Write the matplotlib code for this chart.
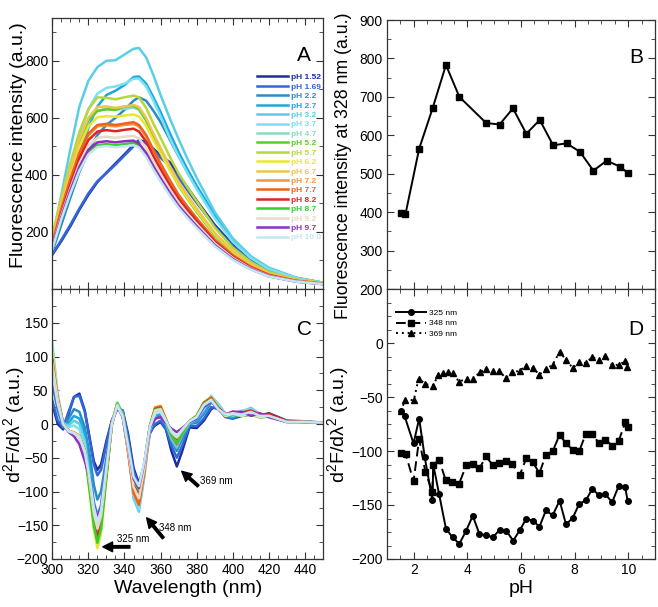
import matplotlib
matplotlib.use("Agg")
import matplotlib.pyplot as plt
from matplotlib.ticker import MultipleLocator, FixedLocator

plt.rcParams['font.family'] = ['Liberation Sans', 'DejaVu Sans']
plt.rcParams['mathtext.fontset'] = 'custom'
plt.rcParams['mathtext.rm'] = 'Liberation Sans'
plt.rcParams['mathtext.it'] = 'Liberation Sans:italic'
plt.rcParams['mathtext.default'] = 'regular'

# ---------------- data ----------------
ph_labels = ["pH 1.52", "pH 1.69", "pH 2.2", "pH 2.7", "pH 3.2", "pH 3.7", "pH 4.7", "pH 5.2",
             "pH 5.7", "pH 6.2", "pH 6.7", "pH 7.2", "pH 7.7", "pH 8.2", "pH 8.7", "pH 9.2",
             "pH 9.7", "pH 10.0"]

# Panel A: emission spectra (wavelength grid, nm)
wl_a = [300, 305, 310, 315, 320, 325, 330, 335, 340, 345, 348, 352, 356, 360, 365, 370, 375, 380,
        390, 400, 410, 420, 435, 450]
spec_152 = [120, 168, 220, 278, 330, 375, 408, 440, 472, 505, 522, 515, 492, 468, 445, 400, 355, 310, 225, 155, 100, 65, 36, 20]
spec_169 = [122, 172, 225, 282, 335, 378, 406, 436, 468, 500, 518, 510, 486, 460, 432, 390, 345, 302, 220, 150, 97, 63, 35, 20]
spec_22 = [130, 225, 320, 410, 480, 540, 575, 600, 628, 660, 672, 660, 625, 585, 525, 465, 408, 355, 255, 170, 110, 72, 39, 22]
spec_27 = [140, 250, 360, 470, 565, 640, 680, 695, 715, 743, 745, 720, 672, 620, 548, 480, 418, 362, 258, 172, 112, 72, 39, 22]
spec_32 = [175, 330, 490, 640, 730, 778, 800, 802, 822, 842, 845, 812, 750, 680, 600, 525, 455, 390, 270, 178, 115, 75, 40, 22]
spec_37 = [165, 290, 420, 540, 630, 685, 705, 710, 720, 737, 738, 710, 660, 605, 530, 465, 405, 350, 248, 165, 108, 70, 38, 22]
spec_47 = [170, 300, 412, 515, 590, 625, 632, 628, 632, 636, 628, 590, 535, 485, 423, 367, 320, 275, 192, 130, 85, 54, 31, 20]
spec_52 = [172, 302, 415, 518, 592, 624, 630, 628, 640, 642, 632, 592, 536, 484, 420, 362, 315, 270, 188, 127, 83, 53, 31, 20]
spec_57 = [185, 320, 440, 550, 630, 672, 670, 665, 672, 678, 672, 635, 580, 530, 465, 405, 355, 308, 215, 145, 95, 60, 34, 22]
spec_62 = [170, 295, 405, 500, 570, 602, 606, 604, 608, 612, 605, 572, 522, 476, 418, 364, 318, 274, 192, 130, 85, 54, 31, 20]
spec_67 = [175, 305, 420, 525, 600, 638, 640, 635, 640, 645, 638, 600, 545, 495, 432, 375, 328, 282, 197, 133, 87, 55, 32, 21]
spec_72 = [158, 276, 380, 472, 538, 570, 574, 570, 575, 578, 570, 535, 484, 437, 380, 328, 286, 246, 172, 117, 77, 49, 29, 19]
spec_77 = [160, 280, 385, 478, 545, 575, 579, 575, 580, 585, 575, 540, 488, 440, 383, 330, 288, 248, 173, 118, 78, 50, 29, 19]
spec_82 = [150, 265, 365, 458, 522, 552, 557, 553, 558, 562, 552, 517, 466, 420, 365, 316, 276, 238, 166, 113, 75, 48, 28, 18]
spec_87 = [142, 248, 340, 420, 478, 504, 508, 504, 508, 512, 503, 470, 424, 382, 333, 288, 251, 217, 152, 104, 69, 44, 26, 17]
spec_92 = [148, 258, 352, 440, 502, 530, 534, 530, 534, 537, 528, 494, 446, 402, 350, 303, 264, 228, 160, 109, 72, 46, 27, 18]
spec_97 = [145, 252, 345, 428, 488, 514, 518, 514, 518, 520, 510, 477, 430, 388, 338, 292, 255, 220, 154, 105, 70, 45, 26, 17]
spec_100 = [140, 245, 335, 415, 472, 497, 501, 497, 500, 504, 496, 463, 418, 377, 328, 284, 248, 214, 150, 102, 68, 44, 26, 17]

# Panel C: second derivative spectra
wl_c = [300, 303, 306, 309, 312, 315, 318, 321, 323, 325, 327, 330, 333, 336, 339, 342, 345, 348, 351, 354,
        357, 360, 363, 366, 369, 372, 376, 380, 384, 388, 392, 396, 400, 405, 410, 415, 420, 430, 440, 450]
der_152 = [30, 0, -8, 15, 40, 45, 20, -25, -55, -68, -60, -25, 5, 22, 20, -15, -65, -88, -60, -10, -2, 3, -8, -40, -63, -40, -5, -6, 5, 22, 28, 12, 8, 12, 18, 12, 16, 5, 4, 2]
der_169 = [35, 5, -5, 18, 40, 42, 18, -28, -60, -76, -68, -30, 5, 25, 20, -20, -70, -92, -65, -15, 0, 5, -8, -32, -50, -32, -3, -3, 8, 25, 22, 10, 8, 14, 16, 12, 14, 4, 3, 2]
der_22 = [60, 20, -5, 8, 22, 18, -5, -50, -90, -112, -100, -50, 0, 28, 18, -25, -80, -100, -62, -10, 8, 12, -2, -25, -40, -22, 0, 2, 15, 32, 25, 12, 10, 14, 18, 12, 14, 4, 3, 2]
der_27 = [75, 30, -2, 2, 12, 8, -15, -70, -115, -135, -120, -60, 0, 30, 15, -30, -95, -115, -70, -10, 12, 15, 0, -22, -35, -18, 0, 5, 18, 35, 28, 12, 10, 16, 20, 12, 12, 4, 3, 2]
der_32 = [110, 40, 0, -2, 5, 0, -25, -85, -130, -150, -132, -65, 0, 32, 15, -35, -110, -130, -78, -10, 15, 20, 2, -22, -35, -15, 2, 8, 22, 40, 30, 15, 12, 18, 24, 15, 12, 4, 3, 2]
der_37 = [120, 45, 2, -5, -2, -8, -30, -95, -140, -160, -140, -70, 0, 30, 14, -35, -105, -126, -75, -8, 16, 22, 4, -18, -30, -14, 2, 8, 22, 42, 30, 14, 14, 20, 22, 14, 12, 4, 3, 2]
der_47 = [95, 38, 0, -10, -13, -18, -40, -97, -140, -165, -145, -73, 0, 28, 12, -39, -95, -112, -67, -5, 20, 22, 5, -15, -25, -12, 4, 10, 28, 36, 22, 12, 15, 12, 15, 10, 12, 3, 3, 2]
der_52 = [85, 34, 0, -10, -14, -18, -40, -89, -128, -150, -132, -66, 0, 30, 14, -35, -85, -100, -60, -3, 22, 24, 6, -15, -26, -12, 4, 12, 30, 38, 24, 12, 14, 12, 14, 10, 11, 3, 3, 2]
der_57 = [100, 40, 0, -10, -13, -18, -42, -106, -153, -180, -158, -79, 0, 30, 12, -38, -92, -108, -65, -4, 24, 26, 7, -13, -22, -10, 5, 11, 30, 38, 23, 12, 16, 13, 15, 10, 12, 3, 3, 2]
der_62 = [105, 42, 0, -10, -12, -17, -42, -109, -156, -184, -162, -81, 0, 30, 12, -39, -95, -112, -67, -4, 25, 27, 7, -14, -24, -11, 5, 11, 31, 40, 24, 13, 16, 13, 16, 11, 12, 3, 3, 2]
der_67 = [90, 36, 0, -10, -13, -18, -40, -100, -145, -170, -150, -75, 0, 29, 12, -41, -100, -118, -71, -5, 24, 26, 6, -16, -28, -13, 4, 11, 30, 40, 23, 12, 17, 12, 15, 10, 12, 3, 3, 2]
der_72 = [88, 35, 0, -10, -13, -18, -40, -97, -140, -165, -145, -73, 0, 29, 12, -40, -98, -115, -69, -5, 23, 25, 6, -16, -27, -12, 4, 12, 32, 40, 24, 14, 18, 14, 16, 12, 12, 4, 3, 2]
der_77 = [85, 34, 0, -10, -13, -18, -40, -94, -136, -160, -141, -70, 0, 28, 12, -42, -102, -120, -72, -5, 24, 26, 6, -17, -30, -14, 4, 12, 32, 38, 22, 14, 18, 14, 17, 12, 13, 4, 3, 2]
der_82 = [95, 38, 0, -10, -13, -18, -40, -100, -144, -169, -149, -74, 0, 28, 12, -37, -89, -105, -63, -4, 22, 24, 6, -13, -22, -10, 4, 11, 30, 38, 24, 14, 18, 17, 20, 14, 15, 4, 3, 2]
der_87 = [80, 32, 0, -10, -14, -19, -42, -104, -150, -176, -155, -77, 0, 30, 13, -34, -83, -98, -59, -3, 21, 23, 5, -16, -28, -13, 4, 12, 30, 37, 22, 12, 14, 12, 14, 10, 11, 3, 3, 2]
der_92 = [90, 36, 0, -10, -13, -18, -40, -91, -132, -155, -136, -68, 0, 28, 12, -38, -93, -110, -66, -5, 20, 22, 5, -12, -20, -9, 4, 10, 28, 36, 22, 12, 15, 12, 15, 10, 12, 3, 3, 2]
der_97 = [70, 28, 0, -12, -18, -30, -55, -83, -119, -140, -123, -62, 0, 26, 10, -33, -81, -95, -57, -6, 8, 10, 2, -7, -12, -6, 3, 8, 25, 34, 22, 14, 18, 18, 12, 16, 10, 3, 3, 2]
der_100 = [75, 30, 0, -11, -14, -20, -42, -86, -123, -145, -128, -64, 0, 27, 11, -32, -78, -92, -55, -5, 16, 18, 4, -10, -18, -8, 4, 10, 28, 35, 22, 14, 16, 14, 18, 12, 12, 3, 3, 2]

# Panel B: intensity at 328 nm
ph_b = [1.52, 1.69, 2.2, 2.7, 3.2, 3.7, 4.7, 5.2, 5.7, 6.2, 6.7, 7.2, 7.7, 8.2, 8.7, 9.2, 9.7, 10.0]
int_328 = [398, 395, 565, 670, 783, 700, 632, 628, 670, 604, 640, 574, 579, 557, 508, 534, 518, 501]

# Panel D: second-derivative minima vs pH
ph_325 = [1.51, 1.66, 1.99, 2.2, 2.41, 2.69, 2.73, 2.94, 3.2, 3.45, 3.7, 3.95, 4.2, 4.45, 4.7, 4.95, 5.2, 5.45,
          5.71, 5.95, 6.2, 6.44, 6.69, 6.93, 7.18, 7.44, 7.68, 7.93, 8.17, 8.42, 8.66, 8.91, 9.15, 9.40, 9.64, 9.89, 9.98]
d_325 = [-63, -68, -93, -70, -106, -145, -113, -139.5, -172, -180, -186, -174, -160, -177, -178, -180, -173, -174,
         -183, -173.5, -162.6, -164.5, -170, -155, -159.6, -146, -168, -162, -149, -145.7, -135, -141, -140, -147.5,
         -132.7, -133.6, -146.6]
ph_348 = [1.51, 1.7, 1.99, 2.2, 2.43, 2.69, 2.73, 2.94, 3.19, 3.43, 3.68, 3.96, 4.21, 4.45, 4.70, 4.94, 5.19, 5.44,
          5.68, 5.95, 6.20, 6.44, 6.69, 6.93, 7.18, 7.44, 7.68, 7.93, 8.17, 8.42, 8.66, 8.91, 9.15, 9.40, 9.64, 9.89, 9.98]
d_348 = [-102, -103, -128, -89, -119, -138, -113, -108, -127, -129, -131, -113, -112, -116, -105, -113, -111, -109,
         -112, -122.5, -106.5, -110.5, -120.4, -103.4, -100.3, -85, -93, -98.8, -100.3, -84, -84, -93, -89.5, -95,
         -91, -73.5, -78]
ph_369 = [1.51, 1.69, 2.0, 2.18, 2.43, 2.71, 2.92, 3.10, 3.29, 3.47, 3.68, 3.97, 4.21, 4.46, 4.70, 4.95, 5.19, 5.44,
          5.68, 5.95, 6.20, 6.44, 6.69, 6.93, 7.18, 7.44, 7.68, 7.93, 8.17, 8.42, 8.66, 8.91, 9.15, 9.40, 9.64, 9.89, 9.97]
d_369 = [-63, -52.5, -53, -33, -38, -39.5, -29.6, -27.5, -27.2, -27.8, -35.8, -33.3, -33.3, -27.2, -24.1, -26.3,
         -26.3, -32.4, -27.2, -25.6, -21, -23.1, -29.3, -24.1, -20.1, -8.3, -15.5, -23.1, -18, -18.5, -13, -15.5,
         -11.8, -20.7, -20.1, -17, -22.2]

spectra = [spec_152, spec_169, spec_22, spec_27, spec_32, spec_37, spec_47, spec_52, spec_57, spec_62,
           spec_67, spec_72, spec_77, spec_82, spec_87, spec_92, spec_97, spec_100]
derivs = [der_152, der_169, der_22, der_27, der_32, der_37, der_47, der_52, der_57, der_62,
          der_67, der_72, der_77, der_82, der_87, der_92, der_97, der_100]

colors = ['#1a2fa0', '#3366d6', '#2a8cc4', '#1aa8e0', '#5ccde6', '#7ae0f2', '#88dcc4', '#5ccc2c',
          '#b4d83c', '#e6e830', '#f2c250', '#f29440', '#ea6420', '#e02424', '#33d033', '#e6dcc4',
          '#8e2fc0', '#c4e6f2']

# ---------------- figure ----------------
W, H = 658, 607
fig = plt.figure(figsize=(W / 100, H / 100), dpi=100)


def box(l, t, r, b):
    return [l / W, 1 - b / H, (r - l) / W, (b - t) / H]


axA = fig.add_axes(box(52.3, 18, 323, 289))
axC = fig.add_axes(box(52.3, 289, 323, 559))
axB = fig.add_axes(box(387, 20, 655, 289))
axD = fig.add_axes(box(387, 289, 655, 559))

TICK_FS = 10
LAB_FS = 14

for ax in (axA, axB, axC, axD):
    ax.tick_params(which='both', direction='in', top=True, right=True, labelsize=TICK_FS, pad=3,
                   color='#333333')
    ax.tick_params(which='major', length=5, width=0.8)
    ax.tick_params(which='minor', length=3, width=0.6)
    for s in ax.spines.values():
        s.set_linewidth(0.9)
        s.set_color('#333333')

# Panel A
handles = []
for y, c in zip(spectra, colors):
    ln, = axA.plot(wl_a, y, color=c, lw=1.8, solid_joinstyle='round')
    handles.append(ln)
axA.set_xlim(300, 450)
axA.set_ylim(0, 950)
axA.xaxis.set_major_locator(MultipleLocator(20))
axA.xaxis.set_minor_locator(MultipleLocator(5))
axA.yaxis.set_major_locator(FixedLocator([200, 400, 600, 800]))
axA.yaxis.set_minor_locator(MultipleLocator(100))
axA.tick_params(labelbottom=False)
axA.set_ylabel('Fluorescence intensity (a.u.)', fontsize=LAB_FS)
axA.yaxis.set_label_coords(-0.095, 0.53)
axA.text(0.93, 0.86, 'A', transform=axA.transAxes, fontsize=15, ha='center', va='center')
leg = axA.legend(handles, ph_labels, loc='upper left', bbox_to_anchor=(0.756, 0.795), frameon=False,
                 prop={'size': 6, 'weight': 'bold'}, handlelength=3.7, handletextpad=0.4,
                 labelspacing=0.19, borderpad=0, borderaxespad=0, labelcolor='linecolor')

# Panel C
for y, c in zip(derivs, colors):
    axC.plot(wl_c, y, color=c, lw=1.8, solid_joinstyle='round')
axC.set_xlim(300, 450)
axC.set_ylim(-200, 200)
axC.set_xticks([300, 320, 340, 360, 380, 400, 420, 440])
axC.xaxis.set_minor_locator(MultipleLocator(5))
axC.yaxis.set_major_locator(FixedLocator([-200, -150, -100, -50, 0, 50, 100, 150]))
axC.yaxis.set_minor_locator(MultipleLocator(25))
axC.set_xlabel('Wavelength (nm)', fontsize=LAB_FS, labelpad=2)
axC.set_ylabel(r'd$^2$F/d$\lambda^2$ (a.u.)', fontsize=LAB_FS)
axC.yaxis.set_label_coords(-0.095, 0.5)
axC.text(0.93, 0.85, 'C', transform=axC.transAxes, fontsize=15, ha='center', va='center')
arrow = dict(facecolor='black', edgecolor='black', width=1.8, headwidth=7, headlength=7, shrink=0)
axC.annotate('', xy=(328, -182), xytext=(343, -182), arrowprops=arrow)
axC.text(345, -170, '325 nm', fontsize=7, ha='center', va='center')
axC.annotate('', xy=(352.3, -139), xytext=(361.5, -169), arrowprops=arrow)
axC.text(368, -154, '348 nm', fontsize=7, ha='center', va='center')
axC.annotate('', xy=(371.7, -70), xytext=(380.9, -92), arrowprops=arrow)
axC.text(391, -84, '369 nm', fontsize=7, ha='center', va='center')

# Panel B
axB.plot(ph_b, int_328, color='black', lw=1.4, marker='s', ms=4)
axB.set_xlim(1, 11)
axB.set_ylim(200, 900)
axB.xaxis.set_major_locator(MultipleLocator(2))
axB.xaxis.set_minor_locator(MultipleLocator(0.5))
axB.yaxis.set_major_locator(MultipleLocator(100))
axB.yaxis.set_minor_locator(MultipleLocator(50))
axB.tick_params(labelbottom=False)
axB.set_ylabel('Fluorescence intensity at 328 nm (a.u.)', fontsize=12.8)
axB.yaxis.set_label_coords(-0.13, 0.46)
axB.text(0.93, 0.86, 'B', transform=axB.transAxes, fontsize=15, ha='center', va='center')

# Panel D
axD.plot(ph_325, d_325, color='black', lw=1.4, marker='o', ms=4, label='325 nm')
axD.plot(ph_348, d_348, color='black', lw=1.4, ls=(0, (5, 2.5)), marker='s', ms=4, label='348 nm')
axD.plot(ph_369, d_369, color='black', lw=1.4, ls=(0, (1, 2)), marker='^', ms=4, label='369 nm')
axD.set_xlim(1, 11)
axD.set_ylim(-200, 50)
axD.xaxis.set_major_locator(MultipleLocator(2))
axD.xaxis.set_minor_locator(MultipleLocator(0.5))
axD.yaxis.set_major_locator(FixedLocator([-200, -150, -100, -50, 0]))
axD.yaxis.set_minor_locator(MultipleLocator(12.5))
axD.set_xlabel('pH', fontsize=LAB_FS, labelpad=2)
axD.set_ylabel(r'd$^2$F/d$\lambda^2$ (a.u.)', fontsize=LAB_FS)
axD.yaxis.set_label_coords(-0.135, 0.5)
axD.text(0.93, 0.85, 'D', transform=axD.transAxes, fontsize=15, ha='center', va='center')
axD.legend(loc='upper left', bbox_to_anchor=(0.035, 0.925), frameon=False, fontsize=6,
           handlelength=3.6, handletextpad=0.3, labelspacing=0.3, borderpad=0, borderaxespad=0,
           numpoints=1)

fig.savefig('out.png', dpi=100)
